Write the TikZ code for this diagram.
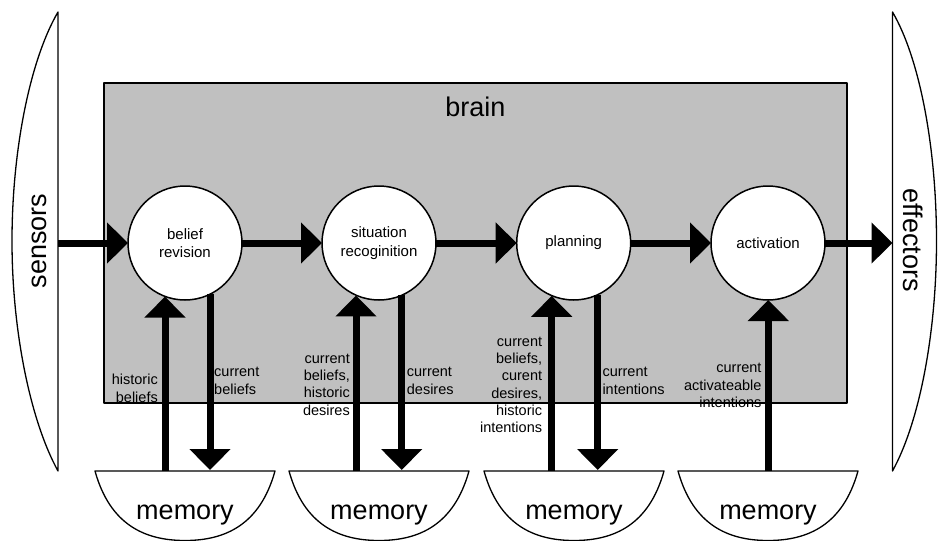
\documentclass[tikz,border=0pt]{standalone}
\usepackage{fontspec}
\setmainfont{Liberation Sans}
\usetikzlibrary{arrows.meta}
\definecolor{braingray}{HTML}{C0C0C0}
\begin{document}
\begin{tikzpicture}[x=1pt,y=-1pt,
  line join=round,
  flow/.style={line width=7pt, -{Triangle[length=21pt,width=40pt]}},
  stage/.style={circle, draw, line width=1.5pt, fill=white, minimum size=114pt,
    inner sep=0pt, outer sep=0pt, align=center, font=\fontsize{15}{18.5}\selectfont},
  outline/.style={draw, line width=1.3pt, fill=white},
  biglabel/.style={font=\fontsize{27}{30}\selectfont, inner sep=0pt},
  flowlabel/.style={font=\fontsize{14.5}{17.3}\selectfont, inner sep=0pt},
]
\useasboundingbox (0,0) rectangle (938,541);

% sensors and effectors
\draw[outline] (58,12) .. controls (30,60) and (12,150) .. (12,241)
  .. controls (12,330) and (30,420) .. (58,471) -- cycle;
\draw[outline] (892.5,12) .. controls (920.5,60) and (936.5,150) .. (936.5,241)
  .. controls (936.5,330) and (920.5,420) .. (892.5,471) -- cycle;
\node[biglabel, rotate=90] (sensors) at (39.5,241) {sensors};
\node[biglabel, rotate=-90] (effectors) at (913,240) {effectors};

% brain
\node[draw, fill=braingray, line width=1.2pt, minimum width=743pt, minimum height=320pt,
  anchor=north west, inner sep=0pt, outer sep=0pt] (brain) at (104,83) {};
\node[biglabel, anchor=base] (braintitle) at (475.5,116) {brain};

% memories
\foreach \cx/\n in {185/1, 379/2, 574/3, 768/4} {
  \draw[outline] (\cx-90,471) -- (\cx+90,471)
    .. controls (\cx+75,525) and (\cx+40,540.5) .. (\cx,540.5)
    .. controls (\cx-40,540.5) and (\cx-75,525) .. (\cx-90,471) -- cycle;
  \node[biglabel, anchor=base] (mem\n) at (\cx,519) {memory};
}

% stages
\node[stage] (c1) at (185,243) {belief\\revision};
\node[stage] (c2) at (379,243) {situation\\recoginition};
\node[stage] (c3) at (573.7,243) {planning};
\node[stage] (c4) at (768,243) {activation};

% main flow
\coordinate (sin) at (58,243);
\coordinate (eout) at (892.5,243);
\draw[flow] (sin) -- (c1);
\draw[flow] (c1) -- (c2);
\draw[flow] (c2) -- (c3);
\draw[flow] (c3) -- (c4);
\draw[flow] (c4) -- (eout);

% memory exchanges
\coordinate (u1) at (165,471);   \coordinate (d1) at (210,470);
\coordinate (u2) at (356,471);   \coordinate (d2) at (401.7,470);
\coordinate (u3) at (551.7,471); \coordinate (d3) at (597.7,470);
\coordinate (u4) at (768.3,471);
\draw[flow] (u1) -- (u1 |- c1.-110.5);
\draw[flow] (d1 |- c1.-64) -- (d1);
\draw[flow] (u2) -- (u2 |- c2.-113.8);
\draw[flow] (d2 |- c2.-66.5) -- (d2);
\draw[flow] (u3) -- (u3 |- c3.-112.7);
\draw[flow] (d3 |- c3.-65.1) -- (d3);
\draw[flow] (u4) -- (u4 |- c4.south);

% flow labels (anchored at the baseline of their last line)
\node[flowlabel, align=right, anchor=base east] (l1) at (158,402) {historic\\beliefs};
\node[flowlabel, align=left, anchor=base west] (l2) at (214,394) {current\\beliefs};
\node[flowlabel, align=right, anchor=base east] (l3) at (350,415) {current\\beliefs,\\historic\\desires};
\node[flowlabel, align=left, anchor=base west] (l4) at (406.7,394) {current\\desires};
\node[flowlabel, align=right, anchor=base east] (l5) at (542.3,432.7) {current\\beliefs,\\curent\\desires,\\historic\\intentions};
\node[flowlabel, align=left, anchor=base west] (l6) at (602.3,394) {current\\intentions};
\node[flowlabel, align=right, anchor=base east] (l7) at (761.7,407.3) {current\\activateable\\intentions};
\end{tikzpicture}
\end{document}
